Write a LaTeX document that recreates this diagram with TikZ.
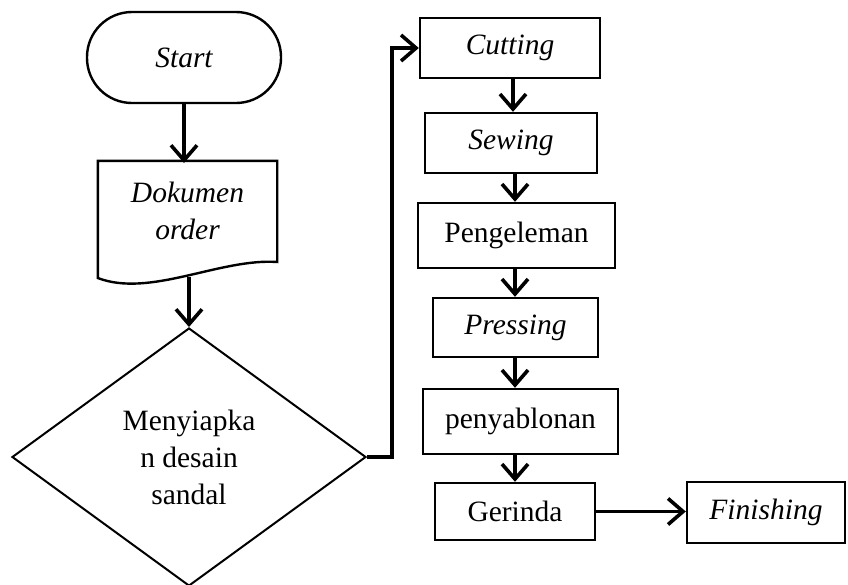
\documentclass[tikz,border=0pt]{standalone}
\usepackage{fontspec}
\setmainfont{Liberation Serif}
\usetikzlibrary{arrows.meta,shapes.geometric}
\begin{document}
\begin{tikzpicture}[x=1pt,y=-1pt,
  txt/.style={font=\fontsize{29.5}{37}\selectfont, align=center, inner sep=0pt},
  box/.style={txt, draw, line width=2.4pt, rectangle},
  conn/.style={line width=3.6pt, -{Straight Barb[length=15pt,width=26pt,line width=3.6pt]}},
  ]
\useasboundingbox (0,0) rectangle (848,584);
% Start terminal
\node[box, rounded corners=45pt, minimum width=194pt, minimum height=91pt] (start) at (184,57.5) {\itshape Start};
% Document
\node[txt, minimum width=179pt, minimum height=99pt] (doc) at (187.5,210.5) {\itshape Dokumen\\\itshape order};
\draw[line width=2.4pt, line join=miter] (doc.south west |- 0,278) -- (doc.north west) -- (doc.north east) -- (doc.south east |- 0,262)
  .. controls (220,258) and (150,298) .. cycle;
\coordinate (doctop) at (184,163);
% Decision
\node[txt, draw, shape=diamond, line width=2pt, minimum width=354pt, minimum height=258pt, shape aspect=1.37] (dia) at (189,457) {Menyiapka\\n desain\\sandal};
\coordinate (docwave) at (189,276.5);
% Process column
\node[box, minimum width=180pt, minimum height=60pt] (cut) at (510,48) {\itshape Cutting};
\node[box, minimum width=172pt, minimum height=60pt] (sew) at (511,143) {\itshape Sewing};
\node[box, minimum width=197pt, minimum height=65pt] (peng) at (516.5,235.5) {Pengeleman};
\node[box, minimum width=165pt, minimum height=59pt] (press) at (515.5,327.5) {\itshape Pressing};
\node[box, minimum width=195pt, minimum height=65pt] (peny) at (520.5,421.5) {penyablonan};
\node[box, minimum width=160pt, minimum height=57pt] (ger) at (515,511.5) {Gerinda};
\node[box, minimum width=158pt, minimum height=61pt] (fin) at (766,512.5) {\itshape Finishing};
\coordinate (ax) at (515,0);
\coordinate (ax1) at (513,0);
% Connectors
\draw[conn] (start.south) -- (start.south |- doctop);
\draw[conn] (docwave) -- (docwave |- dia.north);
\draw[conn] (dia.east) -- ++(25,0) |- (cut.west);
\draw[conn] (cut.south -| ax1) -- (sew.north -| ax1);
\draw[conn] (sew.south -| ax) -- (peng.north -| ax);
\draw[conn] (peng.south -| ax) -- (press.north -| ax);
\draw[conn] (press.south -| ax) -- (peny.north -| ax);
\draw[conn] (peny.south -| ax) -- (ger.north -| ax);
\draw[conn] (ger.east) -- (ger.east -| fin.west);
\end{tikzpicture}
\end{document}
